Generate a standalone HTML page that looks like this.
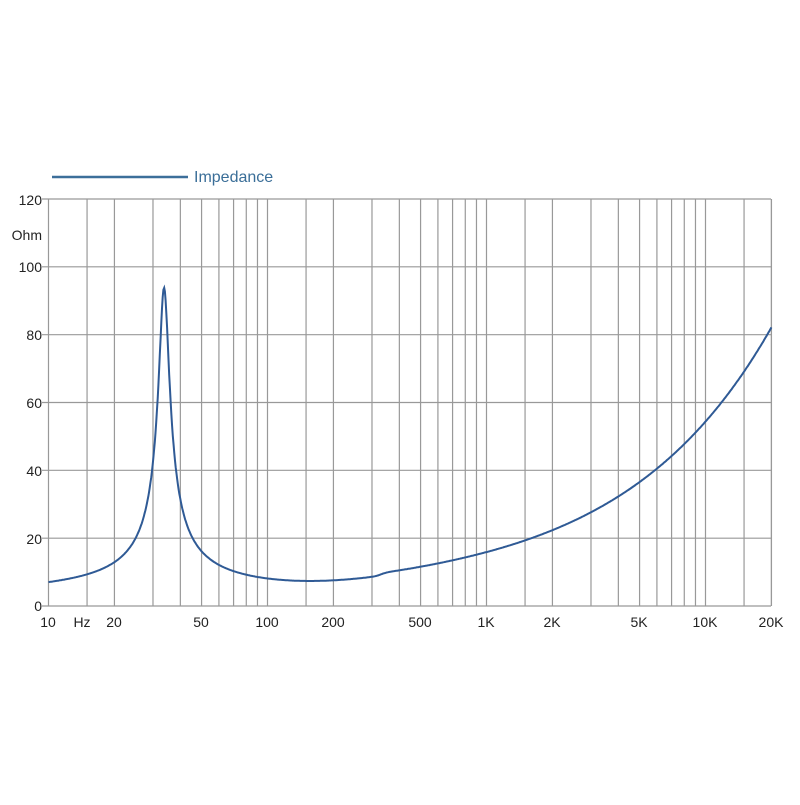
<!DOCTYPE html>
<html><head><meta charset="utf-8"><style>
body{margin:0;background:#fff;}
svg text{font-family:"Liberation Sans",Arial,sans-serif;font-size:14px;fill:#222;}
</style></head><body>
<svg id="s" width="800" height="800" xmlns="http://www.w3.org/2000/svg">
<rect width="800" height="800" fill="#fff"/>
<g id="grid" stroke="#999" stroke-width="1.2"></g>
<line x1="52" y1="177" x2="188" y2="177" stroke="#3c6f9a" stroke-width="2.5"/>
<text x="194" y="182" style="fill:#3a6e98;font-size:16px">Impedance</text>
<text x="42" y="205" text-anchor="end">120</text>
<text x="42" y="240" text-anchor="end">Ohm</text>
<text x="42" y="272" text-anchor="end">100</text>
<text x="42" y="340" text-anchor="end">80</text>
<text x="42" y="408" text-anchor="end">60</text>
<text x="42" y="476" text-anchor="end">40</text>
<text x="42" y="544" text-anchor="end">20</text>
<text x="42" y="611" text-anchor="end">0</text>
<g text-anchor="middle">
<text x="48" y="627">10</text><text x="82" y="627">Hz</text><text x="114" y="627">20</text>
<text x="201" y="627">50</text><text x="267" y="627">100</text><text x="333" y="627">200</text>
<text x="420" y="627">500</text><text x="486" y="627">1K</text><text x="552" y="627">2K</text>
<text x="639" y="627">5K</text><text x="705" y="627">10K</text><text x="771" y="627">20K</text>
</g>
<path id="c" fill="none" stroke="#2f5a95" stroke-width="2"/>
</svg>
<script>
var X0=48.5,D=219,Y0=606,S=407/120;
function fx(f){return X0+D*Math.log10(f/10);}
function fy(z){return Y0-z*S;}
var g=document.getElementById('grid'),h='';
for(var z=0;z<=120;z+=20){var y=fy(z);h+='<line x1="42" y1="'+y+'" x2="771" y2="'+y+'"/>';}
var m=[1,1.5,2,3,4,5,6,7,8,9];
for(var d=10;d<=10000;d*=10)for(var i=0;i<m.length;i++){var f=d*m[i];if(f>20000)break;var x=fx(f);h+='<line x1="'+x+'" y1="199" x2="'+x+'" y2="606"/>';}
h+='<line x1="'+fx(20000)+'" y1="199" x2="'+fx(20000)+'" y2="606"/>';
g.innerHTML=h;
function hi(f){var a=11.4*Math.pow(f/1000,0.64);return a*(f*f/(f*f+200*200));}
function bump(f){var l=Math.log10(f/330);return 1.0/(1+Math.exp(-l*80));}
var p='';for(var k=0;k<=1000;k++){var f=10*Math.pow(2000,k/1000);var x=f/33.7-33.7/f;var z=3.8+hi(f)+bump(f)*0.8+90/Math.sqrt(1+81*x*x);p+=(k?'L':'M')+fx(f).toFixed(1)+' '+fy(z).toFixed(1);}
document.getElementById('c').setAttribute('d',p);
</script>
</body></html>
